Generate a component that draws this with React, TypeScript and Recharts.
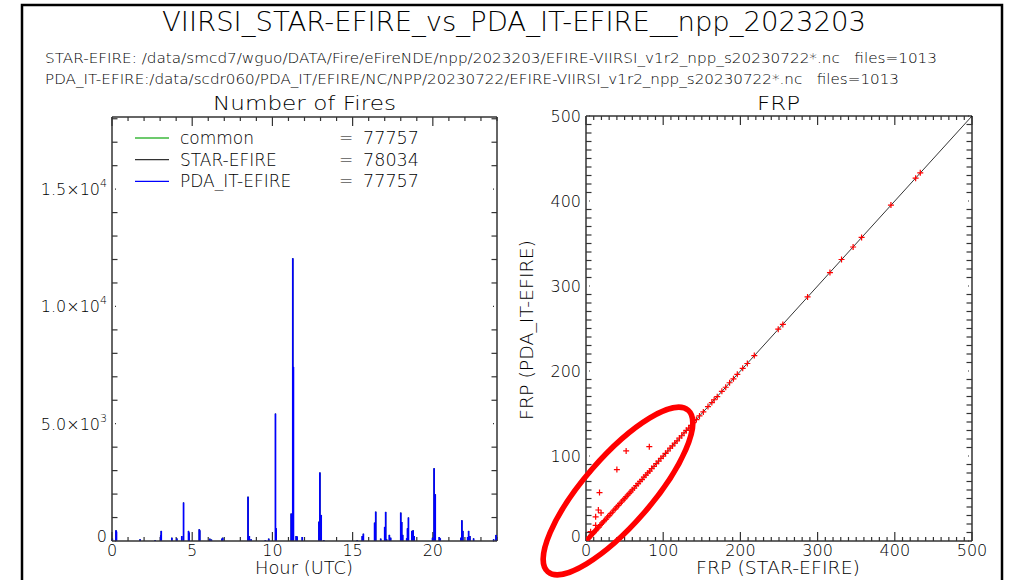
import React from "react";
import {
  ComposedChart,
  ReferenceLine,
  Scatter,
  ScatterChart,
  XAxis,
  YAxis,
} from "recharts";

const FONT = "'DejaVu Sans', 'Liberation Sans', sans-serif";
const INK = "#000";
const AXIS = "#333";

// ---- Number of fires per granule time (hour UTC) ----
const HOURS = [
  0.02, 0.25, 0.28, 1.75, 2.69, 3.04, 3.07, 3.73, 4.04, 4.35, 4.46, 4.77, 4.8,
  5.44, 5.47, 6.1, 6.2, 6.85, 6.9, 8.48, 8.56, 8.67, 9.56, 9.77, 10.19, 10.23,
  11.17, 11.27, 11.31, 11.48, 11.54, 11.86, 12.9, 12.96, 13.04, 13.2, 15.29,
  15.6, 15.67, 16.37, 16.44, 16.75, 17.0, 17.06, 17.12, 17.29, 17.37, 18.0,
  18.06, 18.12, 18.37, 18.42, 18.48, 18.69, 18.77, 18.83, 19.98, 20.08, 20.15,
  20.4, 20.46, 21.75, 21.81, 21.87, 22.17, 22.23, 22.31, 22.54, 23.79, 23.94,
];
const PDA_COUNTS = [
  100, 455, 400, 70, 40, 240, 430, 140, 110, 210, 1640, 430, 360,
  500, 455, 100, 60, 100, 140, 1890, 210, 70, 40, 100, 5430, 540,
  1170, 12050, 7420, 210, 190, 170, 825, 2920, 1110, 40, 40,
  210, 310, 780, 1250, 100, 600, 1240, 70, 260, 140, 1210,
  810, 260, 110, 540, 1000, 430, 455, 210, 140, 3100, 1990,
  170, 110, 140, 880, 430, 170, 430, 210, 110, 70, 260,
];
// PDA fires are all common; STAR differs only where hidden under the blue
const COMMON_COUNTS = PDA_COUNTS;
const STAR_COUNTS = PDA_COUNTS;

const LEGEND_NAMES = ["common", "STAR-EFIRE", "PDA_IT-EFIRE"];
const LEGEND_TOTALS = [77757, 78034, 77757];
const LEGEND_COLORS = ["#3cb83c", "#333333", "#0000ff"];

const HOUR_MAX = 24;
const HOUR_TICKS = Array.from({ length: 25 }, (_, i) => i);
const HOUR_MAJORS = [0, 5, 10, 15, 20];
const COUNT_MAX = 18075;
const COUNT_TICKS = Array.from({ length: 19 }, (_, i) => i * 1000);
const COUNT_MAJORS = [0, 5000, 10000, 15000];

// ---- FRP scatter: STAR-EFIRE (x) vs PDA_IT-EFIRE (y) ----
const STAR_FRP = [
  1.5, 2.5, 3.5, 4.5, 5.5, 6.5, 7.5, 8.5, 9.5, 10.5, 11.5, 12.5, 13.5, 15, 16.5,
  18, 19.5, 21, 22.5, 24, 26, 28, 30, 32, 34, 36, 38, 40, 42, 44, 46, 48, 50,
  52, 54, 56, 58, 60, 62.5, 65, 67.5, 70, 72.5, 75, 77.5, 80, 82.5, 85, 88, 91,
  94, 97, 100, 103, 106, 109, 112, 115, 118, 121, 124, 127, 130, 133, 136, 139,
  143, 147, 152, 158, 163, 166, 170, 176, 181, 186, 191, 196, 203, 209, 218,
  249, 255, 287, 316, 331, 346, 357, 395, 427, 433,
  52, 82, 40, 17.5, 16, 19.5, 12.5, 12.5, 6,
];
const PDA_FRP = [
  1.6, 2.4, 3.7, 4.4, 5.6, 6.3, 7.7, 8.4, 9.6, 10.4, 11.7, 12.3, 13.6, 15.2, 16.3,
  18.1, 19.4, 21.2, 22.4, 24.1, 25.8, 28.2, 29.9, 32.1, 33.8, 36.2, 37.9, 40.1,
  41.8, 44.2, 45.9, 48.1, 49.8, 52.2, 53.9, 56.1, 57.8, 60.2, 62.3, 65.2, 67.4,
  70.1, 72.3, 75.2, 77.4, 80.1, 82.3, 85.2, 87.8, 91.1, 93.9, 97.2, 99.8, 103.1,
  105.9, 109.2, 111.8, 115.1, 117.9, 121.2, 123.8, 127.1, 130.2, 132.8, 136.1,
  139.2, 142.8, 147.1, 151.8, 158.2, 162.9, 166.2, 169.8, 176.1, 180.9, 186.2,
  190.8, 196.1, 203.2, 208.8, 218.1, 249.2, 254.8, 287.1, 315.8, 331.2, 345.9,
  357.1, 395.2, 426.8, 433.1,
  106, 111, 84, 57, 36.5, 33, 28.5, 18.5, 11,
];
const FRP_MAX = 500;
const FRP_TICKS = Array.from({ length: 51 }, (_, i) => i * 10);
const FRP_MAJORS = [0, 100, 200, 300, 400, 500];

const fireRows = HOURS.map((h, i) => ({
  h,
  common: COMMON_COUNTS[i],
  star: STAR_COUNTS[i],
  pda: PDA_COUNTS[i],
}));
const fireSeries = [
  { key: "common" as const, color: LEGEND_COLORS[0], width: 1 },
  { key: "star" as const, color: "#000", width: 1 },
  { key: "pda" as const, color: LEGEND_COLORS[2], width: 1.7 },
];
const frpPoints = STAR_FRP.map((x, i) => ({ x, y: PDA_FRP[i] }));

function sci(v: number) {
  if (v === 0) return { m: "0", e: "" };
  const e = Math.floor(Math.log10(v));
  return { m: (v / 10 ** e).toFixed(1) + "\u00d710", e: String(e) };
}

/** Tick labels only (tick marks are drawn as inward segments below). */
function AxisLabel(props: any) {
  const { x, y, payload, side, majors, fmt } = props;
  const v = payload.value;
  if (!majors.includes(v)) return <g />;
  const txt = { fontFamily: FONT, fontSize: 16, fontWeight: 200, fill: INK };
  if (side === "bottom")
    return (
      <text x={x} y={y + 15} textAnchor="middle" {...txt}>
        {v}
      </text>
    );
  const label = fmt === "sci" ? sci(v) : { m: String(v), e: "" };
  return (
    <text x={x - 5} y={y + (v === 0 ? 1 : 6)} textAnchor="end" {...txt}>
      {label.m}
      {label.e && (
        <tspan dy={-8} fontSize={11}>
          {label.e}
        </tspan>
      )}
    </text>
  );
}

/**
 * IDL-style frame: box on all four sides with inward ticks.
 * pxX / pxY are pixels per data unit, used to turn tick lengths into data units.
 */
function frameMarks(
  id: string,
  xMax: number,
  yMax: number,
  xTicks: number[],
  xMajors: number[],
  yTicks: number[],
  yMajors: number[],
  pxX: number,
  pxY: number,
  xAxisId: string,
  yAxisId: string
) {
  const common = { xAxisId, yAxisId, stroke: AXIS, strokeWidth: 1.2 };
  const out: React.ReactNode[] = [
    <ReferenceLine key={`${id}-top`} {...common} strokeWidth={1.5} y={yMax} />,
    <ReferenceLine key={`${id}-right`} {...common} strokeWidth={1.5} x={xMax} />,
  ];
  xTicks.forEach((v) => {
    const len = (xMajors.includes(v) ? 9 : 4) / pxY;
    out.push(
      <ReferenceLine key={`${id}-b${v}`} {...common} segment={[{ x: v, y: 0 }, { x: v, y: len }]} />,
      <ReferenceLine key={`${id}-t${v}`} {...common} segment={[{ x: v, y: yMax }, { x: v, y: yMax - len }]} />
    );
  });
  yTicks.forEach((v) => {
    const major = yMajors.includes(v);
    const a = (major ? 3 : 0) / pxX;
    const b = (major ? 4 : 5.5) / pxX;
    out.push(
      <ReferenceLine key={`${id}-l${v}`} {...common} segment={[{ x: a, y: v }, { x: b, y: v }]} />,
      <ReferenceLine key={`${id}-r${v}`} {...common} segment={[{ x: xMax - a, y: v }, { x: xMax - b, y: v }]} />
    );
  });
  return out;
}

function PlusMark(p: any) {
  const { cx, cy } = p;
  return (
    <path
      d={`M${cx - 3},${cy}h6M${cx},${cy - 3}v6`}
      stroke="#ff0000"
      strokeWidth={1.2}
      fill="none"
    />
  );
}

const axisLine = { stroke: AXIS, strokeWidth: 1.5 };

function FiresPanel() {
  // plot area 385 x 424 px
  return (
    <ComposedChart
      width={500}
      height={470}
      data={fireRows}
      margin={{ top: 17, right: 23, bottom: 0, left: 0 }}
    >
      <XAxis
        xAxisId="b"
        dataKey="h"
        type="number"
        domain={[0, HOUR_MAX]}
        allowDataOverflow
        ticks={HOUR_TICKS}
        interval={0}
        height={29}
        tickSize={0}
        tickMargin={0}
        tickLine={false}
        axisLine={axisLine}
        tick={<AxisLabel side="bottom" majors={HOUR_MAJORS} />}
      />
      <YAxis
        yAxisId="l"
        type="number"
        domain={[0, COUNT_MAX]}
        allowDataOverflow
        ticks={COUNT_TICKS}
        interval={0}
        width={92}
        tickSize={0}
        tickMargin={0}
        tickLine={false}
        axisLine={axisLine}
        tick={<AxisLabel side="left" majors={COUNT_MAJORS} fmt="sci" />}
      />
      {frameMarks(
        "f",
        HOUR_MAX,
        COUNT_MAX,
        HOUR_TICKS,
        HOUR_MAJORS,
        COUNT_TICKS,
        COUNT_MAJORS,
        385 / HOUR_MAX,
        424 / COUNT_MAX,
        "b",
        "l"
      )}
      {fireSeries.map((s) =>
        fireRows.map((r, i) => (
          <ReferenceLine
            key={`${s.key}-${i}`}
            xAxisId="b"
            yAxisId="l"
            segment={[
              { x: r.h, y: 0 },
              { x: r.h, y: r[s.key] },
            ]}
            stroke={s.color}
            strokeWidth={s.width}
          />
        ))
      )}
    </ComposedChart>
  );
}

function FrpPanel() {
  // plot area 386 x 425 px
  return (
    <ScatterChart
      width={480}
      height={475}
      margin={{ top: 16, right: 28, bottom: 0, left: 0 }}
    >
      <XAxis
        xAxisId="b"
        dataKey="x"
        type="number"
        domain={[0, FRP_MAX]}
        allowDataOverflow
        ticks={FRP_TICKS}
        interval={0}
        height={34}
        tickSize={0}
        tickMargin={0}
        tickLine={false}
        axisLine={axisLine}
        tick={<AxisLabel side="bottom" majors={FRP_MAJORS} />}
      />
      <YAxis
        yAxisId="l"
        dataKey="y"
        type="number"
        domain={[0, FRP_MAX]}
        allowDataOverflow
        ticks={FRP_TICKS}
        interval={0}
        width={66}
        tickSize={0}
        tickMargin={0}
        tickLine={false}
        axisLine={axisLine}
        tick={<AxisLabel side="left" majors={FRP_MAJORS} />}
      />
      {frameMarks(
        "s",
        FRP_MAX,
        FRP_MAX,
        FRP_TICKS,
        FRP_MAJORS,
        FRP_TICKS,
        FRP_MAJORS,
        386 / FRP_MAX,
        425 / FRP_MAX,
        "b",
        "l"
      )}
      <ReferenceLine
        xAxisId="b"
        yAxisId="l"
        segment={[
          { x: 0, y: 0 },
          { x: FRP_MAX, y: FRP_MAX },
        ]}
        stroke="#000"
        strokeWidth={0.8}
      />
      <Scatter
        data={frpPoints}
        xAxisId="b"
        yAxisId="l"
        shape={(p: any) => <PlusMark {...p} />}
        isAnimationActive={false}
      />
    </ScatterChart>
  );
}

function Overlay() {
  const t = { fontFamily: FONT, fontWeight: 200, fill: INK };
  return (
    <svg
      width={1012}
      height={580}
      style={{ position: "absolute", left: 0, top: 0, pointerEvents: "none" }}
    >
      <rect x={22} y={5} width={980} height={620} fill="none" stroke="#000" strokeWidth={2.5} />
      <text x={162} y={31} fontSize={27} textLength={704} lengthAdjust="spacingAndGlyphs" {...t}>
        VIIRSI_STAR-EFIRE_vs_PDA_IT-EFIRE__npp_2023203
      </text>
      <text x={45} y={63} fontSize={14} textLength={892} lengthAdjust="spacingAndGlyphs" {...t}>
        {"STAR-EFIRE: /data/smcd7/wguo/DATA/Fire/eFireNDE/npp/2023203/EFIRE-VIIRSI_v1r2_npp_s20230722*.nc\u00a0\u00a0\u00a0files=1013"}
      </text>
      <text x={45} y={84} fontSize={14} textLength={854} lengthAdjust="spacingAndGlyphs" {...t}>
        {"PDA_IT-EFIRE:/data/scdr060/PDA_IT/EFIRE/NC/NPP/20230722/EFIRE-VIIRSI_v1r2_npp_s20230722*.nc\u00a0\u00a0\u00a0files=1013"}
      </text>
      <text x={213} y={110} fontSize={19} textLength={183} lengthAdjust="spacingAndGlyphs" {...t}>
        Number of Fires
      </text>
      <text x={757} y={110} fontSize={19} textLength={43} lengthAdjust="spacingAndGlyphs" {...t}>
        FRP
      </text>
      <text x={255} y={574} fontSize={17} textLength={98} lengthAdjust="spacingAndGlyphs" {...t}>
        Hour (UTC)
      </text>
      <text x={696} y={574} fontSize={17} textLength={164} lengthAdjust="spacingAndGlyphs" {...t}>
        FRP (STAR-EFIRE)
      </text>
      <text
        x={0}
        y={0}
        fontSize={17}
        textLength={180}
        lengthAdjust="spacingAndGlyphs"
        transform="translate(533,420) rotate(-90)"
        {...t}
      >
        FRP (PDA_IT-EFIRE)
      </text>
      {LEGEND_NAMES.map((name, i) => {
        const y = 138 + i * 21.7;
        return (
          <g key={name}>
            <line x1={135} x2={169} y1={y} y2={y} stroke={LEGEND_COLORS[i]} strokeWidth={1.3} />
            <text x={180} y={y + 6} fontSize={17} {...t}>
              {name}
            </text>
            <text x={339} y={y + 6} fontSize={17} {...t}>
              =
            </text>
            <text x={363} y={y + 6} fontSize={17} textLength={56} lengthAdjust="spacingAndGlyphs" {...t}>
              {LEGEND_TOTALS[i]}
            </text>
          </g>
        );
      })}
      <ellipse
        cx={618}
        cy={491}
        rx={107}
        ry={34}
        transform="rotate(-49 618 491)"
        fill="none"
        stroke="#ff0000"
        strokeWidth={5.5}
      />
    </svg>
  );
}

export default function App() {
  return (
    <div
      style={{
        position: "absolute",
        left: 0,
        top: 0,
        width: 1012,
        height: 580,
        background: "#fff",
        overflow: "hidden",
      }}
    >
      <div style={{ position: "absolute", left: 20, top: 100 }}>
        <FiresPanel />
      </div>
      <div style={{ position: "absolute", left: 520, top: 100 }}>
        <FrpPanel />
      </div>
      <Overlay />
    </div>
  );
}
